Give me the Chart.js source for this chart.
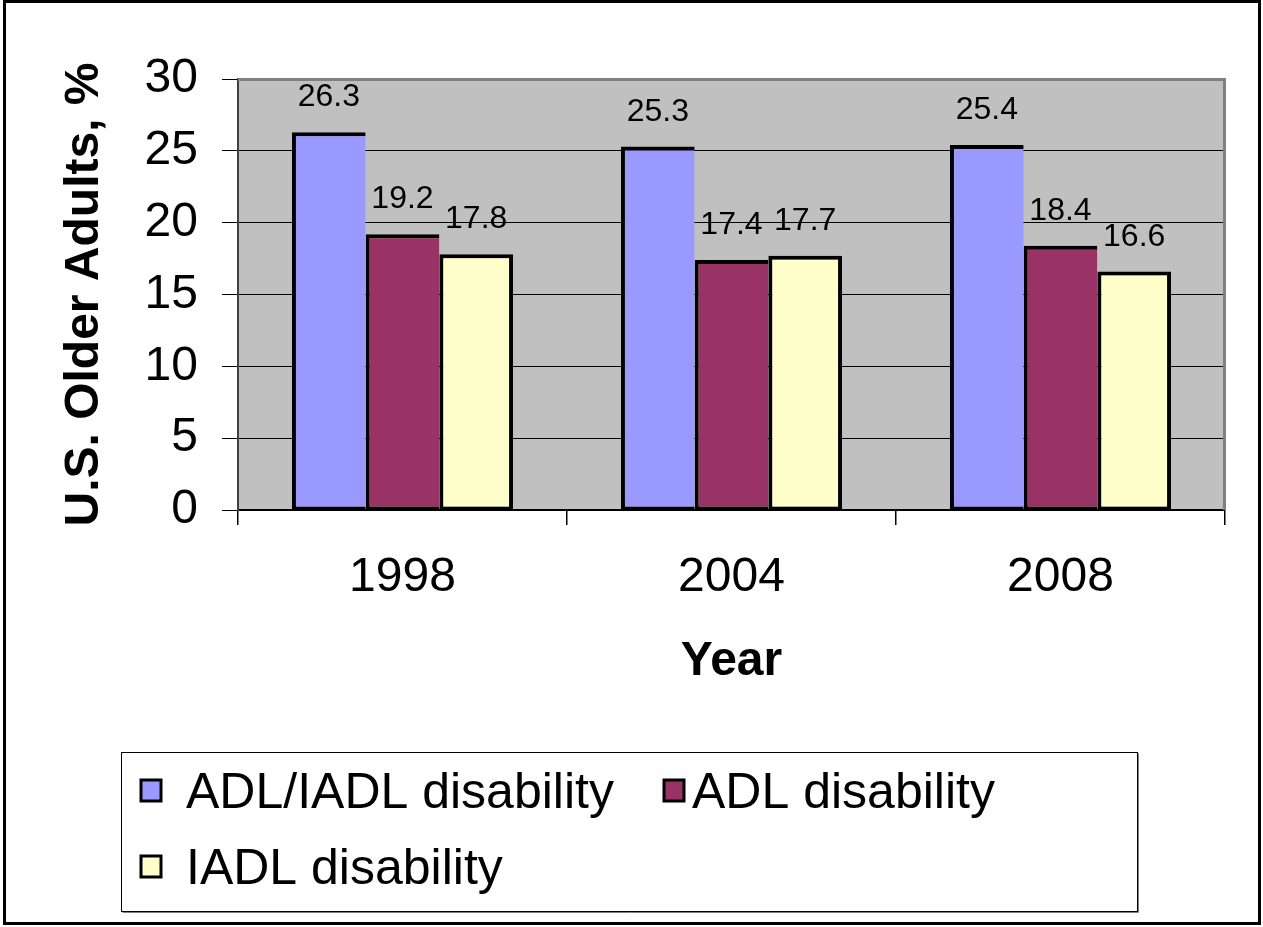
<!DOCTYPE html>
<html>
<head>
<meta charset="utf-8">
<title>Disability among U.S. older adults</title>
<script src="https://cdn.jsdelivr.net/npm/chart.js@4.4.1/dist/chart.umd.min.js"></script>
<style>
  html, body { margin: 0; padding: 0; background: #ffffff; }
  #wrap { width: 1263px; height: 927px; }
</style>
</head>
<body>
<div id="wrap"><canvas id="chart" width="1263" height="927"></canvas></div>
<script>
// Survey years and percentage of older adults with each disability type
const years = ['1998', '2004', '2008'];
const adlIadlValues = [26.3, 25.3, 25.4];
const adlValues = [19.2, 17.4, 18.4];
const iadlValues = [17.8, 17.7, 16.6];
const seriesNames = ['ADL/IADL disability', 'ADL disability', 'IADL disability'];
const yMin = 0;
const yMax = 30;
const yStep = 5;

const FONT = '"Liberation Sans", Arial, Helvetica, sans-serif';
const colors = ['#9999FF', '#993366', '#FFFFCC'];

// White page, grey plot background and outer frame
const framePlugin = {
  id: 'frame',
  beforeDraw(chart) {
    const { ctx, chartArea: a } = chart;
    ctx.save();
    ctx.fillStyle = '#ffffff';
    ctx.fillRect(0, 0, chart.width, chart.height);
    ctx.fillStyle = '#C0C0C0';
    ctx.fillRect(a.left, a.top, a.right - a.left, a.bottom - a.top);
    ctx.restore();
  },
  beforeDatasetsDraw(chart) {
    const { ctx, chartArea: a } = chart;
    ctx.save();
    ctx.strokeStyle = '#808080';
    ctx.lineWidth = 3;
    ctx.beginPath();
    ctx.moveTo(a.left, a.top + 0.5);
    ctx.lineTo(a.right - 0.5, a.top + 0.5);
    ctx.lineTo(a.right - 0.5, a.bottom);
    ctx.stroke();
    ctx.restore();
  },
  afterDraw(chart) {
    const { ctx } = chart;
    ctx.save();
    ctx.strokeStyle = '#000000';
    ctx.lineWidth = 3;
    ctx.strokeRect(4.5, 1.5, 1255, 922);
    ctx.restore();
  }
};

// Value written above every bar
const valueLabels = {
  id: 'valueLabels',
  afterDatasetsDraw(chart) {
    const { ctx } = chart;
    ctx.save();
    ctx.font = '32px ' + FONT;
    ctx.fillStyle = '#000000';
    ctx.textAlign = 'center';
    ctx.textBaseline = 'alphabetic';
    chart.data.datasets.forEach((ds, i) => {
      const meta = chart.getDatasetMeta(i);
      meta.data.forEach((bar, j) => {
        ctx.fillText(ds.data[j].toFixed(1), bar.x, bar.y - 26);
      });
    });
    ctx.restore();
  }
};

// Boxed legend below the axis title
const boxLegend = {
  id: 'boxLegend',
  afterDraw(chart) {
    const { ctx } = chart;
    const box = { x: 121.5, y: 752.5, w: 1016, h: 159 };
    ctx.save();
    ctx.fillStyle = '#ffffff';
    ctx.fillRect(box.x, box.y, box.w, box.h);
    ctx.strokeStyle = '#808080';
    ctx.lineWidth = 1;
    ctx.beginPath();
    ctx.moveTo(box.x + 1, box.y + box.h + 1);
    ctx.lineTo(box.x + box.w + 1, box.y + box.h + 1);
    ctx.lineTo(box.x + box.w + 1, box.y + 1);
    ctx.stroke();
    ctx.strokeStyle = '#000000';
    ctx.strokeRect(box.x, box.y, box.w, box.h);

    const slots = [
      { sx: 141, sy: 780, tx: 186, ty: 808 },
      { sx: 664, sy: 780, tx: 692, ty: 808 },
      { sx: 141, sy: 856, tx: 186, ty: 884 }
    ];
    ctx.font = '50px ' + FONT;
    ctx.textBaseline = 'alphabetic';
    ctx.textAlign = 'left';
    chart.data.datasets.forEach((ds, i) => {
      const s = slots[i];
      ctx.fillStyle = ds.backgroundColor;
      ctx.fillRect(s.sx, s.sy, 20, 21);
      ctx.strokeStyle = '#000000';
      ctx.lineWidth = 3;
      ctx.strokeRect(s.sx, s.sy, 20, 21);
      ctx.fillStyle = '#000000';
      ctx.fillText(ds.label, s.tx, s.ty);
    });
    ctx.restore();
  }
};

const seriesValues = [adlIadlValues, adlValues, iadlValues];

// Neighbouring bars share one outline, so only the last bar of a group closes its right side
const datasets = seriesValues.map((vals, i) => ({
  label: seriesNames[i],
  data: vals,
  backgroundColor: colors[i],
  borderColor: '#000000',
  borderSkipped: false,
  borderWidth: {
    top: 4, bottom: 3, left: 4,
    right: i === seriesValues.length - 1 ? 4 : 0
  },
  inflateAmount: 0,
  categoryPercentage: 0.672,
  barPercentage: 1.0
}));

new Chart(document.getElementById('chart'), {
  type: 'bar',
  data: { labels: years, datasets },
  plugins: [framePlugin, valueLabels, boxLegend],
  options: {
    responsive: false,
    animation: false,
    devicePixelRatio: 1,
    layout: { padding: { left: 0, top: 79, right: 38, bottom: 227 } },
    plugins: {
      legend: { display: false },
      tooltip: { enabled: false },
      title: { display: false }
    },
    scales: {
      x: {
        afterFit(scale) { scale.height = 190; },
        grid: {
          offset: true,
          drawOnChartArea: false,
          drawTicks: true,
          tickLength: 15,
          color: '#000000',
          lineWidth: 1.5
        },
        border: { display: true, color: '#000000', width: 2 },
        ticks: {
          color: '#000000',
          font: { family: FONT, size: 48 },
          padding: 24
        },
        title: {
          display: true,
          text: 'Year',
          color: '#000000',
          font: { family: FONT, size: 48, weight: 'bold' },
          padding: { top: 0, bottom: 9 }
        }
      },
      y: {
        min: yMin,
        max: yMax,
        afterFit(scale) { scale.width = 238; },
        ticks: {
          stepSize: yStep,
          color: '#000000',
          font: { family: FONT, size: 48 },
          padding: 24
        },
        grid: {
          color: '#000000',
          lineWidth: 1,
          drawTicks: true,
          tickLength: 16
        },
        border: { display: true, color: '#404040', width: 2 },
        title: {
          display: true,
          text: 'U.S. Older Adults, %',
          color: '#000000',
          font: { family: FONT, size: 48, weight: 'bold' },
          padding: { top: 56, bottom: 0 }
        }
      }
    }
  }
});
</script>
</body>
</html>
